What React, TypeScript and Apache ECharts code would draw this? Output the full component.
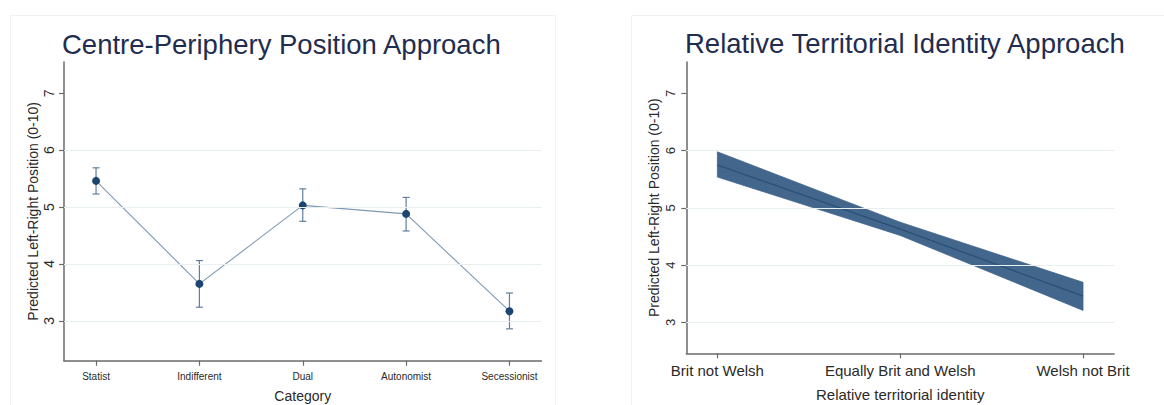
import React, { useEffect, useRef } from "react";
import * as echarts from "echarts";

// Centre-periphery categories (left panel)
const cpCategories = ["Statist", "Indifferent", "Dual", "Autonomist", "Secessionist"];
const cpPredicted = [5.46, 3.65, 5.03, 4.88, 3.17];
const cpLower = [5.23, 3.24, 4.75, 4.58, 2.86];
const cpUpper = [5.69, 4.06, 5.32, 5.17, 3.49];

// Relative territorial identity (right panel)
const rtiCategories = ["Brit not Welsh", "Equally Brit and Welsh", "Welsh not Brit"];
const rtiPredicted = [5.75, 4.63, 3.46];
const rtiLower = [5.54, 4.52, 3.21];
const rtiUpper = [5.98, 4.75, 3.7];

const yTicks = [3, 4, 5, 6, 7];
const gridValues = [3, 4, 5, 6];

const TITLE_COLOR = "#1f2d50";
const AXIS_COLOR = "#6a6a6a";
const TEXT_COLOR = "#2a2a2a";
const GRID_COLOR = "#e8efef";
const FONT = "Liberation Sans, Arial, sans-serif";

export default function App() {
  const ref = useRef<HTMLDivElement>(null);

  useEffect(() => {
    if (!ref.current) return;
    const chart = echarts.init(ref.current, null, { renderer: "svg" });

    const cpX = cpCategories.map((_, i) => i + 1);
    const rtiX = rtiCategories.map((_, i) => i + 1);

    const gridLines = {
      silent: true,
      symbol: ["none", "none"],
      label: { show: false },
      lineStyle: { color: GRID_COLOR, type: "solid", width: 1.2 },
      data: gridValues.map((v) => ({ yAxis: v })),
    };

    const xAxisBase = (gridIndex: number, cats: string[], min: number, max: number, labelSize: number, margin: number, name: string, nameSize: number, nameGap: number) => ({
      type: "value",
      gridIndex,
      min,
      max,
      name,
      nameLocation: "middle",
      nameGap,
      nameTextStyle: { fontSize: nameSize, color: TEXT_COLOR, fontFamily: FONT },
      axisLine: { show: true, lineStyle: { color: AXIS_COLOR, width: 1.5 } },
      axisTick: { show: true, length: 5, customValues: cats.map((_, i) => i + 1), lineStyle: { color: AXIS_COLOR, width: 1.2 } },
      axisLabel: {
        customValues: cats.map((_, i) => i + 1),
        formatter: (v: number) => cats[Math.round(v) - 1] ?? "",
        fontSize: labelSize,
        color: TEXT_COLOR,
        fontFamily: FONT,
        margin,
      },
      splitLine: { show: false },
    });

    const yAxisBase = (gridIndex: number, min: number, max: number, labelSize: number, margin: number, nameGap: number) => ({
      type: "value",
      gridIndex,
      min,
      max,
      name: "Predicted Left-Right Position (0-10)",
      nameLocation: "middle",
      nameGap,
      nameTextStyle: { fontSize: 14, color: TEXT_COLOR, fontFamily: FONT },
      axisLine: { show: true, lineStyle: { color: AXIS_COLOR, width: 1.5 } },
      axisTick: { show: true, length: 5, customValues: yTicks, lineStyle: { color: AXIS_COLOR, width: 1.2 } },
      axisLabel: {
        customValues: yTicks,
        rotate: 90,
        fontSize: labelSize,
        color: TEXT_COLOR,
        fontFamily: FONT,
        margin,
      },
      splitLine: { show: false },
    });

    chart.setOption({
      animation: false,
      backgroundColor: "#ffffff",
      graphic: [
        { type: "rect", shape: { x: 10.5, y: 15.5, width: 545, height: 420 }, style: { fill: "none", stroke: "#eef2f2", lineWidth: 1 }, silent: true },
        { type: "rect", shape: { x: 631.5, y: 15.5, width: 560, height: 420 }, style: { fill: "none", stroke: "#eef2f2", lineWidth: 1 }, silent: true },
      ],
      title: [
        { text: "Centre-Periphery Position Approach", left: 62, top: 30, padding: 0, textStyle: { fontSize: 27.5, fontWeight: "normal", color: TITLE_COLOR, fontFamily: FONT } },
        { text: "Relative Territorial Identity Approach", left: 685, top: 29, padding: 0, textStyle: { fontSize: 27.5, fontWeight: "normal", color: TITLE_COLOR, fontFamily: FONT } },
      ],
      grid: [
        { left: 64, top: 62, width: 477.5, height: 298.7, outerBoundsMode: "none", containLabel: false },
        { left: 686.3, top: 62, width: 427.8, height: 291.3, outerBoundsMode: "none", containLabel: false },
      ],
      xAxis: [
        xAxisBase(0, cpCategories, 0.69, 5.31, 10, 11, "Category", 14, 28),
        xAxisBase(1, rtiCategories, 0.83, 3.17, 15, 10, "Relative territorial identity", 15, 34),
      ],
      yAxis: [yAxisBase(0, 2.3, 7.55, 14, 8, 24), yAxisBase(1, 2.46, 7.55, 13, 9, 25)],
      series: [
        // left panel: gridlines, confidence bars, connected point estimates
        {
          type: "custom",
          xAxisIndex: 0,
          yAxisIndex: 0,
          z: 3,
          markLine: gridLines,
          data: cpX.map((x, i) => [x, cpLower[i], cpUpper[i]]),
          encode: { x: 0, y: [1, 2] },
          renderItem: (_params: any, api: any) => {
            const x = api.value(0);
            const top = api.coord([x, api.value(2)]);
            const bot = api.coord([x, api.value(1)]);
            const hw = 3.5;
            const style = { stroke: "#5f7fa0", lineWidth: 1.2 };
            return {
              type: "group",
              children: [
                { type: "line", shape: { x1: top[0], y1: top[1], x2: bot[0], y2: bot[1] }, style },
                { type: "line", shape: { x1: top[0] - hw, y1: top[1], x2: top[0] + hw, y2: top[1] }, style },
                { type: "line", shape: { x1: bot[0] - hw, y1: bot[1], x2: bot[0] + hw, y2: bot[1] }, style },
              ],
            };
          },
        },
        {
          type: "line",
          xAxisIndex: 0,
          yAxisIndex: 0,
          z: 4,
          data: cpX.map((x, i) => [x, cpPredicted[i]]),
          symbol: "circle",
          symbolSize: 8,
          itemStyle: { color: "#1b456f", borderWidth: 0 },
          lineStyle: { color: "#7e99b4", width: 1.1 },
        },
        // right panel: confidence band and fitted line
        {
          type: "custom",
          xAxisIndex: 1,
          yAxisIndex: 1,
          z: 3,
          markLine: gridLines,
          data: rtiX.map((x, i) => [x, rtiLower[i], rtiUpper[i]]),
          encode: { x: 0, y: [1, 2] },
          renderItem: (params: any, api: any) => {
            const i = params.dataIndex;
            if (i >= rtiX.length - 1) return { type: "group", children: [] };
            const pts = [
              api.coord([rtiX[i], rtiUpper[i]]),
              api.coord([rtiX[i + 1], rtiUpper[i + 1]]),
              api.coord([rtiX[i + 1], rtiLower[i + 1]]),
              api.coord([rtiX[i], rtiLower[i]]),
            ];
            return {
              type: "polygon",
              shape: { points: pts },
              style: { fill: "#42668c", stroke: "#42668c", lineWidth: 0.8 },
            };
          },
        },
        {
          type: "line",
          xAxisIndex: 1,
          yAxisIndex: 1,
          z: 4,
          data: rtiX.map((x, i) => [x, rtiPredicted[i]]),
          showSymbol: false,
          symbol: "none",
          lineStyle: { color: "#2b4e74", width: 1.2 },
        },
      ],
    });

    return () => chart.dispose();
  }, []);

  return <div ref={ref} style={{ position: "absolute", left: 0, top: 0, width: 1164, height: 405 }} />;
}
